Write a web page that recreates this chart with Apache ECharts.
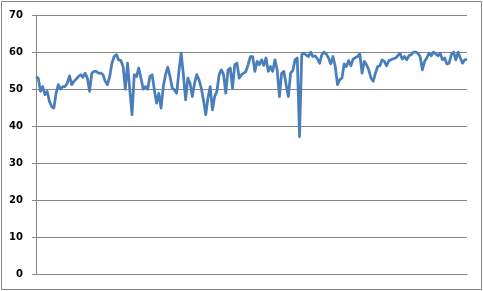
<!DOCTYPE html>
<html>
<head>
<meta charset="utf-8">
<script src="https://cdn.jsdelivr.net/npm/echarts@6/dist/echarts.min.js"></script>
<style>
html,body{margin:0;padding:0;background:#fff;}
#chart{width:483px;height:291px;}
</style>
</head>
<body>
<div id="chart"></div>
<script>
const yTicks = [0, 10, 20, 30, 40, 50, 60, 70];
const values = [
  53.4, 53, 49.4, 50.7, 48.5, 49.4, 46.7, 45.3, 44.9, 48.9, 51.2, 50, 50.7, 50.7, 51.6, 53.6, 51.2, 52.1, 52.7, 53.4,
  53.9, 53.2, 54.3, 53, 49.4, 54.3, 54.8, 54.8, 54.3, 54.3, 53.9, 52.1, 51.2, 53.4, 57,
  58.8, 59.3, 57.9, 57.7, 56.1, 50, 57, 49.8, 43.1, 53.9, 53.4, 55.7, 53, 50, 50.7, 50, 53.4, 53.9, 49.8, 46.2,
  48.9, 44.9, 50.7,
  53.9, 55.9, 53.4, 50.3, 49.8, 48.9, 54.8, 59.7, 53.9, 47.1, 53, 51.6, 48, 51.6, 53.9, 52.5, 50.3, 47.1, 43.1,
  47.6, 50.7, 44.4, 48, 49.4, 53.9, 55.2, 53.9, 48.9, 55.2, 55.7, 50.3, 56.6, 57,
  53, 53.9, 54.3, 54.8, 56.6, 58.8, 58.8, 54.8, 57.5, 56.6, 57.9, 56.4, 58.4, 54.8, 56.1, 54.8, 57.9, 55.2, 48,
  54.3, 54.8, 51.2, 48, 54.3, 55, 57.9, 58.4, 37.2, 59.3, 59.7, 59.2, 58.8, 60, 58.8,
  59, 58.2, 57,
  59.3, 60, 59.5, 58.4, 56.8, 58.8, 56.1, 51.2, 52.5, 53, 56.8, 56.1, 57.7, 56.3, 58.1, 58.5, 58.8, 59.5, 54.3, 57.5, 56.6,
  55.2, 53, 52.1, 54.3, 56.1, 56.3, 57.9, 57.5, 56.3, 57.7, 57.9, 58.2, 58.4, 59,
  59.7, 58.1, 58.8, 57.9, 59, 59.3, 60, 60, 59.7, 58.8, 55.2, 57.5, 58.4, 59.7, 59, 60, 59.5, 59, 59.7, 57.9, 58.4, 56.8,
  57, 59.3, 60, 57.9, 60, 58.4, 57, 57.9, 58.1
];
const categories = values.map((v, i) => String(i + 1));

const chart = echarts.init(document.getElementById('chart'), null, {renderer: 'canvas'});
chart.setOption({
  animation: false,
  backgroundColor: '#ffffff',
  graphic: [{
    type: 'rect',
    shape: {x: 1.5, y: 1.5, width: 480, height: 288},
    style: {fill: 'none', stroke: '#868686', lineWidth: 1},
    silent: true
  }],
  grid: {left: 36, right: 16, top: 15, bottom: 16.5, containLabel: false},
  xAxis: {
    type: 'category',
    data: categories,
    boundaryGap: false,
    axisLine: {show: true, lineStyle: {color: '#868686', width: 1}},
    axisTick: {show: false},
    axisLabel: {show: false},
    splitLine: {show: false}
  },
  yAxis: {
    type: 'value',
    min: yTicks[0],
    max: yTicks[yTicks.length - 1],
    interval: 10,
    axisLine: {show: true, lineStyle: {color: '#868686', width: 1}},
    axisTick: {show: true, inside: false, length: 4, lineStyle: {color: '#868686'}},
    axisLabel: {
      margin: 13,
      color: '#000000',
      fontFamily: 'DejaVu Sans',
      fontWeight: 'bold',
      fontSize: 10
    },
    splitLine: {show: true, lineStyle: {color: '#868686', width: 1}}
  },
  series: [{
    type: 'line',
    data: values,
    showSymbol: false,
    symbol: 'none',
    lineStyle: {color: '#4A7EBB', width: 2.75, join: 'round'},
    itemStyle: {color: '#4A7EBB'}
  }]
});
</script>
</body>
</html>
